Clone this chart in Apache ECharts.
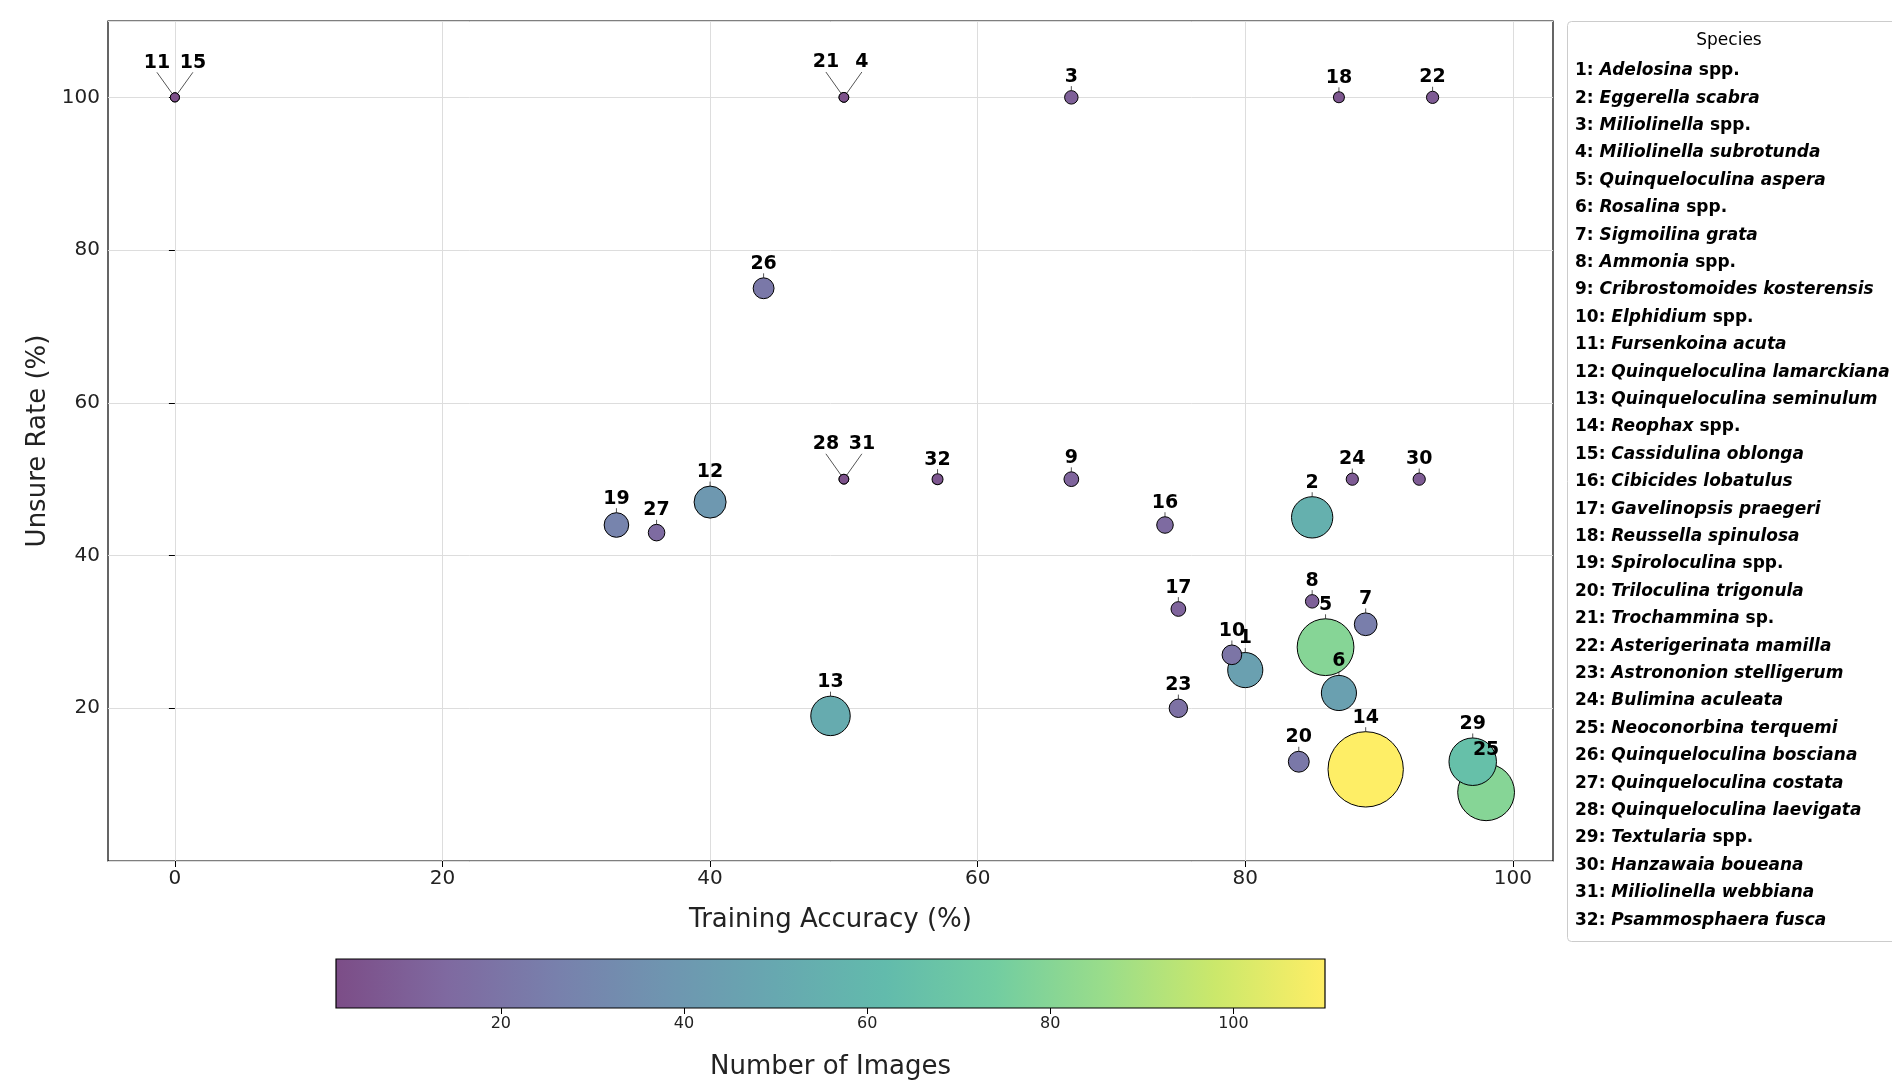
<!DOCTYPE html>
<html><head><meta charset="utf-8">
<script src="https://cdn.jsdelivr.net/npm/echarts@6/dist/echarts.min.js"></script>
<style>html,body{margin:0;padding:0;background:#fff}#c{width:1892px;height:1084px}</style>
</head><body><div id="c"></div>
<script>
const ids = [1,2,3,4,5,6,7,8,9,10,11,12,13,14,15,16,17,18,19,20,21,22,23,24,25,26,27,28,29,30,31,32];
const accuracy = [80,85,67,50,86,87,89,85,67,79,0,40,49,89,0,74,75,87,33,84,50,94,75,88,98,44,36,50,97,93,50,57];
const unsure = [25,45,100,100,28,22,31,34,50,27,100,47,19,12,100,44,33,100,44,13,100,100,20,50,9,75,43,50,13,50,50,50];
const images = [45,55,10,4,80,45,25,10,12,20,3,40,52,110,3,15,12,6,28,22,4,8,18,8,80,22,15,4,65,8,4,6];
const species = ["Adelosina spp.","Eggerella scabra","Miliolinella spp.","Miliolinella subrotunda","Quinqueloculina aspera","Rosalina spp.","Sigmoilina grata","Ammonia spp.","Cribrostomoides kosterensis","Elphidium spp.","Fursenkoina acuta","Quinqueloculina lamarckiana","Quinqueloculina seminulum","Reophax spp.","Cassidulina oblonga","Cibicides lobatulus","Gavelinopsis praegeri","Reussella spinulosa","Spiroloculina spp.","Triloculina trigonula","Trochammina sp.","Asterigerinata mamilla","Astrononion stelligerum","Bulimina aculeata","Neoconorbina terquemi","Quinqueloculina bosciana","Quinqueloculina costata","Quinqueloculina laevigata","Textularia spp.","Hanzawaia boueana","Miliolinella webbiana","Psammosphaera fusca"];
const xTicks = [0,20,40,60,80,100];
const leftLabel = [11,21,28], rightLabel = [15,4,31];
const viridis = ['#7c4d87','#7f69a0','#7880ac','#6f95b0','#67a8b0','#62bbac','#72cda1','#9add8a','#cbe86b','#feee66'];

const data = ids.map((id,i)=>({value:[accuracy[i],unsure[i],images[i]],name:String(id)}));
// order: big bubbles first so small ones on top
data.sort((a,b)=>b.value[2]-a.value[2]);

const legendLines = species.map((s,i)=>{
  const m = s.match(/^(.*?)( spp?\.)?$/);
  return '{n|'+ids[i]+': }{i|'+m[1]+'}'+(m[2]?'{n|'+m[2]+'}':'');
}).join('\n');

const chart = echarts.init(document.getElementById('c'));
chart.setOption({
  animation:false,
  textStyle:{fontFamily:'DejaVu Sans'},
  title:[
    {text:legendLines,left:1567,top:21,padding:[36,10,8,8],borderColor:'#cccccc',borderWidth:1,borderRadius:4,
     textStyle:{lineHeight:27.4,rich:{n:{fontSize:17,color:'#000',fontFamily:'DejaVu Sans',lineHeight:27.4},i:{fontSize:17,color:'#000',fontStyle:'italic',fontFamily:'DejaVu Sans',lineHeight:27.4}}}},
    {text:'Species',left:1724,top:27,textAlign:'center',textStyle:{fontSize:17,fontWeight:'normal',color:'#000'}}
  ],
  grid:[
    {left:108,right:339,top:21,bottom:223,show:true,borderColor:'#000',borderWidth:1.2},
    {left:336,width:989,top:959,height:49,show:true,borderColor:'#000',borderWidth:1.2,z:5}
  ],
  xAxis:[
    {gridIndex:0,type:'value',min:-5,max:103,name:'Training Accuracy (%)',nameLocation:'middle',nameGap:46,
     nameTextStyle:{fontSize:26,color:'#222'},
     axisLine:{show:false},axisTick:{show:true,length:6,customValues:xTicks,lineStyle:{color:'#000'}},
     axisLabel:{fontSize:20,color:'#222',customValues:xTicks},
     splitLine:{show:true,lineStyle:{color:'#dddddd'}}},
    {gridIndex:1,type:'value',min:2,max:110,name:'Number of Images',nameLocation:'middle',nameGap:46,
     nameTextStyle:{fontSize:26,color:'#222'},axisLine:{show:false},
     axisTick:{show:true,length:6,customValues:[20,40,60,80,100],lineStyle:{color:'#000'}},
     axisLabel:{fontSize:16,color:'#222',customValues:[20,40,60,80,100]},splitLine:{show:false}}
  ],
  yAxis:[
    {gridIndex:0,type:'value',min:0,max:110,interval:20,name:'Unsure Rate (%)',nameLocation:'middle',nameGap:56,
     nameTextStyle:{fontSize:26,color:'#222'},axisLine:{show:false},
     axisTick:{show:true,length:6,lineStyle:{color:'#000'}},
     axisLabel:{fontSize:20,color:'#222',showMinLabel:false,showMaxLabel:false},
     splitLine:{show:true,lineStyle:{color:'#dddddd'}}},
    {gridIndex:1,type:'category',data:['c'],show:false}
  ],
  visualMap:{show:false,type:'continuous',min:2,max:110,dimension:2,seriesIndex:0,inRange:{color:viridis}},
  series:[
    {type:'scatter',xAxisIndex:0,yAxisIndex:0,data:data,
     symbolSize:v=>2*1.213*(3+0.255*v[2]),
     itemStyle:{borderColor:'#000',borderWidth:1,opacity:1},
     label:{show:true,position:'top',distance:4,formatter:p=>p.name,fontSize:19,fontWeight:'bold',color:'#000'},
     labelLayout:p=>{
       const id=+p.text;
       if(leftLabel.includes(id)) return {dx:-18,dy:-16};
       if(rightLabel.includes(id)) return {dx:18,dy:-16};
       return {};
     },
     labelLine:{show:true,lineStyle:{color:'#555',width:1}}
    },
    {type:'bar',xAxisIndex:1,yAxisIndex:1,data:[110],barWidth:'100%',silent:true,
     itemStyle:{color:new echarts.graphic.LinearGradient(0,0,1,0,viridis.map((c,i)=>({offset:i/(viridis.length-1),color:c})))}}
  ]
});
</script></body></html>
